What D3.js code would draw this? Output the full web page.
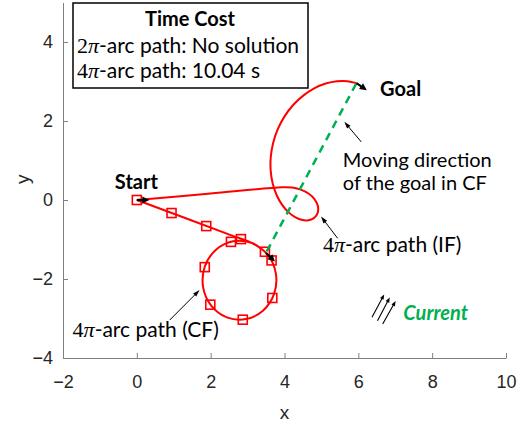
<!DOCTYPE html>
<html><head><meta charset="utf-8">
<script src="https://cdn.jsdelivr.net/npm/d3@7"></script>
<style>body{margin:0;background:#fff}svg{display:block}</style>
</head><body>
<svg id="c" width="526" height="425"></svg>
<script>
// ---------- data ----------
const xTicks = [-2, 0, 2, 4, 6, 8, 10];
const yTicks = [-4, -2, 0, 2, 4];
const xDomain = [-2, 10];
const yDomain = [-4, 5];

// 4pi-arc path in current frame (CF)
const cfPathX = [0, 2.6, 3.12, 3.546, 3.765, 3.72, 3.423, 2.954, 2.438, 2.014, 1.795, 1.84, 2.137, 2.606, 3.122, 3.50];
const cfPathY = [0, -0.908, -1.09, -1.387, -1.856, -2.372, -2.796, -3.015, -2.97, -2.673, -2.204, -1.688, -1.264, -1.045, -1.09, -1.338];
// time samples (1 s) along CF path
const cfMarkX = [0, 0.94, 1.88, 2.82, 3.65, 3.67, 2.87, 1.99, 1.84, 2.55, 3.47];
const cfMarkY = [0, -0.33, -0.66, -0.99, -1.53, -2.48, -3.03, -2.65, -1.70, -1.06, -1.31];

// 4pi-arc path in inertial frame (IF)
const ifPathX = [0, 2.0, 3.927, 4.21, 4.458, 4.659, 4.805, 4.89, 4.913, 4.876, 4.785, 4.65, 4.483, 4.298, 4.111, 3.936, 3.789, 3.682, 3.626, 3.628, 3.692, 3.818, 4.001, 4.234, 4.507, 4.805, 5.115, 5.421, 5.707, 5.952];
const ifPathY = [0, 0.164, 0.322, 0.315, 0.257, 0.157, 0.03, -0.111, -0.251, -0.373, -0.464, -0.511, -0.506, -0.44, -0.313, -0.124, 0.12, 0.411, 0.739, 1.088, 1.444, 1.792, 2.117, 2.404, 2.643, 2.826, 2.948, 3.007, 3.008, 2.959];

// goal moving direction in CF (dashed)
const goalMoveX = [3.52, 5.95];
const goalMoveY = [-1.30, 2.96];

// heading arrows: start, CF end, goal
const headTailX = [0, 3.50, 5.95];
const headTailY = [0, -1.34, 2.96];
const headTipX = [0.34, 3.74, 6.23];
const headTipY = [0, -1.56, 2.78];

// current arrows
const curTailX = [6.37, 6.52, 6.66];
const curTailY = [-2.97, -3.06, -3.14];
const curTipX = [6.70, 6.85, 7.01];
const curTipY = [-2.39, -2.47, -2.56];

// annotation pointer arrows
const noteTailX = [6.08, 5.44, 0.89];
const noteTailY = [1.47, -0.97, -3.04];
const noteTipX = [5.62, 4.99, 1.70];
const noteTipY = [1.98, -0.42, -2.28];

// ---------- drawing ----------
const svg = d3.select("#c");
const x = d3.scaleLinear(xDomain, [63, 506]);
const y = d3.scaleLinear(yDomain, [358, 2.5]);

const AX = "#808080", LBL = "#262626", RED = "#ff0000", GREEN = "#00b050";
const CAL = "Lato, 'Open Sans', sans-serif";
const MATH = "'Liberation Serif', 'DejaVu Serif', serif";

// axes
const gx = svg.append("g").attr("transform", `translate(0,${y(-4)})`)
  .call(d3.axisBottom(x).tickValues(xTicks).tickSizeInner(-5).tickSizeOuter(0).tickPadding(17).tickFormat(d3.format("d")));
const gy = svg.append("g").attr("transform", `translate(${x(-2)},0)`)
  .call(d3.axisLeft(y).tickValues(yTicks).tickSizeInner(-5).tickSizeOuter(0).tickPadding(10).tickFormat(d3.format("d")));
[gx, gy].forEach(g => {
  g.select(".domain").attr("stroke", AX).attr("stroke-width", 1);
  g.selectAll(".tick line").attr("stroke", AX);
  g.selectAll(".tick text").attr("fill", LBL).attr("font-family", "'Liberation Sans', Arial, sans-serif").attr("font-size", 18);
});
gx.selectAll(".tick text").attr("dy", "0.71em");

svg.append("text").attr("x", (x(-2)+x(10))/2).attr("y", 419).attr("text-anchor", "middle")
  .attr("font-family", "'Liberation Sans', Arial, sans-serif").attr("font-size", 19).attr("fill", LBL).text("x");
svg.append("text").attr("transform", `translate(29,${(y(-4)+y(5))/2 - 1}) rotate(-90)`).attr("text-anchor", "middle")
  .attr("font-family", "'Liberation Sans', Arial, sans-serif").attr("font-size", 19).attr("fill", LBL).text("y");

const line = d3.line().x(d => x(d[0])).y(d => y(d[1]));
const smooth = d3.line().x(d => x(d[0])).y(d => y(d[1])).curve(d3.curveCatmullRom.alpha(0.5));

// IF path
svg.append("path").attr("d", smooth(ifPathX.map((v, i) => [v, ifPathY[i]])))
  .attr("fill", "none").attr("stroke", RED).attr("stroke-width", 2);
// CF path
svg.append("path").attr("d", smooth(cfPathX.map((v, i) => [v, cfPathY[i]])))
  .attr("fill", "none").attr("stroke", RED).attr("stroke-width", 2);
// markers
svg.append("g").selectAll("rect").data(cfMarkX.map((v, i) => [v, cfMarkY[i]])).join("rect")
  .attr("x", d => x(d[0]) - 4.5).attr("y", d => y(d[1]) - 4.5).attr("width", 9).attr("height", 9)
  .attr("fill", "none").attr("stroke", RED).attr("stroke-width", 1.6);

// goal moving dashed line
svg.append("path").attr("d", line(goalMoveX.map((v, i) => [v, goalMoveY[i]])))
  .attr("fill", "none").attr("stroke", GREEN).attr("stroke-width", 2.5).attr("stroke-dasharray", "8,6");

function arrow(g, x1, y1, x2, y2, w, hl, hw) {
  const dx = x2 - x1, dy = y2 - y1, L = Math.hypot(dx, dy);
  const ux = dx / L, uy = dy / L;
  const bx = x2 - ux * hl, by = y2 - uy * hl;
  g.append("line").attr("x1", x1).attr("y1", y1).attr("x2", bx + ux * 1).attr("y2", by + uy * 1)
    .attr("stroke", "#000").attr("stroke-width", w);
  g.append("path").attr("d", `M${x2},${y2}L${bx - uy * hw / 2},${by + ux * hw / 2}L${bx + uy * hw / 2},${by - ux * hw / 2}Z`)
    .attr("fill", "#000");
}
const ga = svg.append("g");
headTailX.forEach((v, i) => arrow(ga, x(v), y(headTailY[i]), x(headTipX[i]), y(headTipY[i]), 2.2, 7, 7));
curTailX.forEach((v, i) => arrow(ga, x(v), y(curTailY[i]), x(curTipX[i]), y(curTipY[i]), 1.1, 5, 4));
noteTailX.forEach((v, i) => arrow(ga, x(v), y(noteTailY[i]), x(noteTipX[i]), y(noteTipY[i]), 1, 7, 4.5));

// rich text helper
function rich(g, px, py, parts, opts = {}) {
  const t = g.append("text").attr("x", px).attr("y", py).attr("font-size", opts.size || 20)
    .attr("fill", opts.fill || "#000").attr("text-anchor", opts.anchor || "start");
  parts.forEach(p => {
    const s = t.append("tspan").text(p.t).attr("font-family", p.math ? MATH : CAL);
    if (p.it) s.attr("font-style", "italic");
    if (p.b) s.attr("font-weight", "bold");
    if (p.size) s.attr("font-size", p.size);
  });
  return t;
}
const arcLabel = (n, rest) => [{t: n, math: 1, size: 22}, {t: "π", math: 1, it: 1, size: 22}, {t: rest}];

// annotations
const gt = svg.append("g");
rich(gt, x(-0.595), y(0.27), [{t: "Start", b: 1}]);
rich(gt, x(6.59), y(2.63), [{t: "Goal", b: 1}]);
rich(gt, x(5.58), y(0.84), [{t: "Moving direction"}]);
rich(gt, x(5.58), y(0.25), [{t: "of the goal in CF"}]);
rich(gt, x(5.04), y(-1.31), arcLabel("4", "-arc path (IF)"), {size: 21});
rich(gt, x(-1.74), y(-3.46), arcLabel("4", "-arc path (CF)"), {size: 21});
rich(gt, x(7.22), y(-3.04), [{t: "Current", b: 1, it: 1}], {fill: GREEN});

// legend box
const gl = svg.append("g");
gl.append("rect").attr("x", 73).attr("y", 3).attr("width", 235).attr("height", 85)
  .attr("fill", "#fff").attr("stroke", "#000").attr("stroke-width", 1.5);
rich(gl, 190, 26, [{t: "Time Cost", b: 1}], {anchor: "middle"});
rich(gl, 77, 53, arcLabel("2", "-arc path: No solution"), {size: 21});
rich(gl, 77, 78, arcLabel("4", "-arc path: 10.04 s"), {size: 21});
</script>
</body></html>
